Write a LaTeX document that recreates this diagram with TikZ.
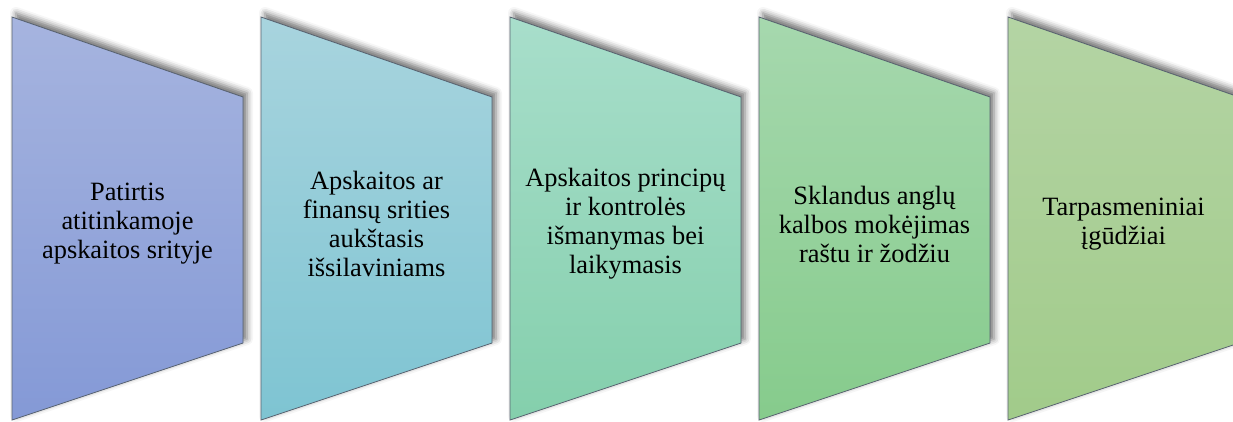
\documentclass[tikz,border=0pt]{standalone}
\usepackage{fontspec}
\setmainfont{Liberation Serif}
\usetikzlibrary{shadows.blur}

% panel gradient colours (top / bottom)
\definecolor{pAt}{RGB}{166,180,223}
\definecolor{pAb}{RGB}{132,153,214}
\definecolor{pBt}{RGB}{168,212,222}
\definecolor{pBb}{RGB}{126,196,210}
\definecolor{pCt}{RGB}{168,222,203}
\definecolor{pCb}{RGB}{132,207,172}
\definecolor{pDt}{RGB}{166,216,174}
\definecolor{pDb}{RGB}{134,203,140}
\definecolor{pEt}{RGB}{180,212,164}
\definecolor{pEb}{RGB}{161,203,138}
\definecolor{edge}{RGB}{88,98,112}

\tikzset{
  panel/.style={draw=edge, line width=0.8pt, line join=miter,
    blur shadow={shadow xshift=4pt, shadow yshift=4pt,
      shadow blur radius=6pt, shadow opacity=55}},
  label/.style={align=center, font=\fontsize{26.4}{29}\selectfont, inner sep=0pt}
}

\begin{document}
\begin{tikzpicture}[x=1pt, y=-1pt]
  \useasboundingbox (0,0) rectangle (1233,421);
  \begin{scope}
    \clip (0,-20) rectangle (1233,421);
    \foreach \i/\ct/\cb/\txt in {
      0/pAt/pAb/{Patirtis\\atitinkamoje\\apskaitos srityje},
      1/pBt/pBb/{Apskaitos ar\\finansų srities\\aukštasis\\išsilaviniams},
      2/pCt/pCb/{Apskaitos principų\\ir kontrolės\\išmanymas bei\\laikymasis},
      3/pDt/pDb/{Sklandus anglų\\kalbos mokėjimas\\raštu ir žodžiu},
      4/pEt/pEb/{Tarpasmeniniai\\įgūdžiai}} {
      \pgfmathsetmacro{\xl}{12+249*\i}
      \pgfmathsetmacro{\xr}{\xl+231}
      \path[panel, top color=\ct, bottom color=\cb]
        (\xl,17) -- (\xr,97) -- (\xr,343) -- (\xl,420) -- cycle;
      \node[label] (t\i) at ({\xl+115.5},224) {\txt};
    }
  \end{scope}
\end{tikzpicture}
\end{document}
